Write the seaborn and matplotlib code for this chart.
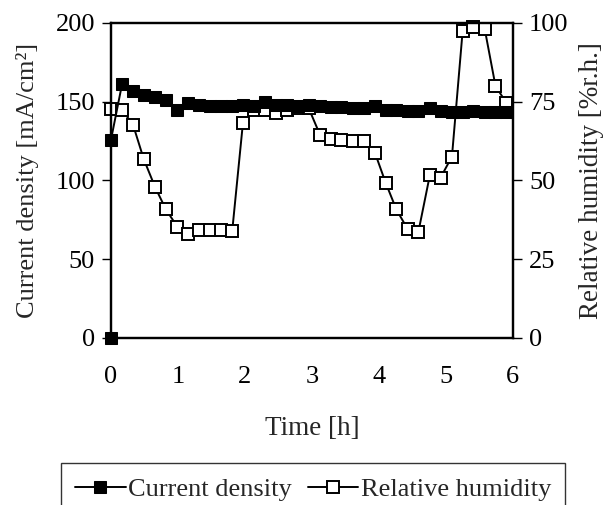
import matplotlib
matplotlib.use("Agg")
import matplotlib.pyplot as plt
import seaborn as sns
import pandas as pd

# ---- data ----
time_h = [0.0, 0.164, 0.33, 0.49, 0.66, 0.82, 0.99, 1.15, 1.31, 1.48, 1.64, 1.81,
          1.97, 2.13, 2.30, 2.46, 2.62, 2.79, 2.95, 3.12, 3.28, 3.44, 3.61, 3.77,
          3.94, 4.10, 4.26, 4.43, 4.59, 4.76, 4.92, 5.09, 5.25, 5.41, 5.58, 5.74, 5.90]

cd_time = [0.0] + time_h
current_density = [0, 126, 161, 157, 154, 153, 151, 145, 149, 148, 147.5, 147, 147,
                   148, 147, 150, 148, 148, 147.5, 148, 147, 146.5, 146.5, 146, 146,
                   147.5, 145, 144.5, 144, 144, 146, 144, 143.5, 143.5, 144, 143.5,
                   143.5, 143.5]

humidity = [72.7, 72.5, 67.6, 56.7, 47.8, 40.8, 35.3, 32.9, 34.3, 34.3, 34.3, 34.1,
            68.4, 72.5, 72.3, 71.5, 72.5, 73, 73, 64.5, 63.3, 63, 62.4, 62.5,
            58.8, 49.3, 40.8, 34.5, 33.8, 51.7, 50.9, 57.6, 97.6, 98.8, 98, 80, 74.7]

x_ticks = [0, 1, 2, 3, 4, 5, 6]
left_ticks = [0, 50, 100, 150, 200]
right_ticks = [0, 25, 50, 75, 100]

df_cd = pd.DataFrame({"t": cd_time, "v": current_density})
df_rh = pd.DataFrame({"t": time_h, "v": humidity})

sns.set_theme(style="white")
plt.rcParams["font.family"] = ["Liberation Serif", "DejaVu Serif"]

fig = plt.figure(figsize=(6.08, 5.05), dpi=100)
ax = fig.add_axes([0.1826, 0.3307, 0.661, 0.6238])
ax2 = ax.twinx()

sns.lineplot(data=df_cd, x="t", y="v", ax=ax, estimator=None, sort=False,
             color="black", lw=1.4, marker="s", markersize=8.5,
             markerfacecolor="black", markeredgecolor="black",
             legend=False, clip_on=False)
sns.lineplot(data=df_rh, x="t", y="v", ax=ax2, estimator=None, sort=False,
             color="black", lw=1.4, marker="s", markersize=8.5,
             markerfacecolor="white", markeredgecolor="black", markeredgewidth=1.4,
             legend=False, clip_on=False)

ax.set_zorder(ax2.get_zorder() + 1)
ax.patch.set_visible(False)

ax.set_xlim(0, 6)
ax.set_ylim(0, 200)
ax2.set_ylim(0, 100)
ax.set_xticks(x_ticks)
ax.set_yticks(left_ticks)
ax2.set_yticks(right_ticks)

fs = 19
ax.set_xlabel("Time [h]", fontsize=19.5, labelpad=20)
ax.set_ylabel("Current density [mA/cm²]", fontsize=19, labelpad=12)
ax2.set_ylabel("Relative humidity [%r.h.]", fontsize=19.5, labelpad=8)

for a in (ax, ax2):
    a.tick_params(direction="out", length=6.5, width=1.0, labelsize=fs, colors="black")
    for s in a.spines.values():
        s.set_linewidth(1.6)
        s.set_color("black")
ax.tick_params(axis="x", pad=14)
ax.tick_params(axis="y", left=True, pad=5)
ax2.tick_params(axis="y", right=True, pad=5)
ax.grid(False)
ax2.grid(False)

h1 = ax.lines[0]
h2 = ax2.lines[0]
leg = fig.legend([h1, h2], ["Current density", "Relative humidity"],
                 loc="upper center", bbox_to_anchor=(0.515, 0.083), ncol=2,
                 fontsize=19, frameon=True, fancybox=False, edgecolor="black",
                 handlelength=1.9, handletextpad=0.1, columnspacing=0.6,
                 borderpad=0.55, borderaxespad=0)
leg.get_frame().set_linewidth(1.0)

fig.savefig("out.png", dpi=100)
